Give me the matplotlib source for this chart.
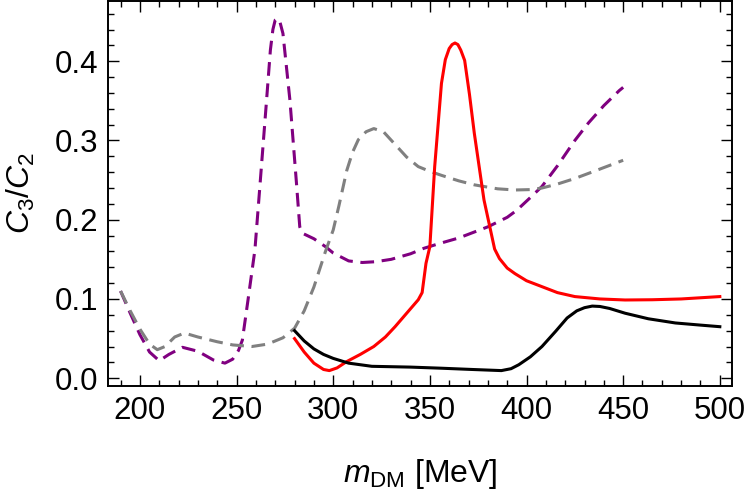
import numpy as np
import matplotlib
matplotlib.use("Agg")
import matplotlib.pyplot as plt
from matplotlib.ticker import MultipleLocator, FormatStrFormatter

# purple dashed curve
purple_x = [190, 195, 200, 205, 210, 215, 222, 230, 238, 244, 248, 251, 253, 256,
            259.5, 262, 265.5, 267.5, 268.8, 270, 271.2, 272.5, 274, 277.6, 281,
            282.7, 284, 290, 296, 300, 308, 315, 322, 330, 340, 347, 355, 365,
            380, 390, 395, 402, 408, 416, 425, 432, 440, 448, 450]
purple_y = [0.110, 0.082, 0.055, 0.033, 0.022, 0.030, 0.039, 0.034, 0.023, 0.019,
            0.024, 0.035, 0.048, 0.100, 0.162, 0.240, 0.350, 0.414, 0.440, 0.452,
            0.454, 0.449, 0.435, 0.351, 0.246, 0.191, 0.183, 0.176, 0.166, 0.158,
            0.148, 0.146, 0.147, 0.150, 0.157, 0.164, 0.170, 0.177, 0.191, 0.203,
            0.212, 0.228, 0.242, 0.268, 0.300, 0.322, 0.344, 0.363, 0.367]

# grey dashed curve
grey_x = [190, 195, 200, 205, 209, 213, 218, 223, 230, 240, 248, 258, 266, 274,
          280, 285, 290, 296, 300, 303, 307, 310, 313, 317, 321, 326, 332, 338,
          344, 350, 356, 365, 373, 385, 394, 402, 408, 416, 425, 437, 450]
grey_y = [0.110, 0.085, 0.062, 0.043, 0.036, 0.040, 0.052, 0.057, 0.052, 0.046,
          0.042, 0.040, 0.043, 0.051, 0.063, 0.085, 0.115, 0.160, 0.187, 0.218,
          0.262, 0.285, 0.301, 0.311, 0.315, 0.311, 0.295, 0.279, 0.267, 0.261,
          0.256, 0.249, 0.244, 0.239, 0.2375, 0.238, 0.240, 0.245, 0.252, 0.263,
          0.275]

# red solid curve
red_x = [280, 285, 290, 295, 298, 302, 307, 314, 321, 327, 332, 338, 344, 346,
         348, 350, 352.5, 356, 358, 360, 361.5, 363, 364.5, 366, 368, 370.5, 373,
         378, 383.5, 386, 390, 394, 400, 408, 416, 425, 438, 451, 465, 480, 500]
red_y = [0.050, 0.033, 0.019, 0.011, 0.0096, 0.013, 0.021, 0.030, 0.040, 0.052,
         0.065, 0.082, 0.099, 0.108, 0.145, 0.166, 0.267, 0.372, 0.402, 0.416,
         0.421, 0.423, 0.421, 0.414, 0.401, 0.358, 0.309, 0.225, 0.163, 0.151,
         0.139, 0.132, 0.123, 0.1155, 0.108, 0.103, 0.100, 0.0987, 0.099, 0.100,
         0.103]

# black solid curve
black_x = [280, 285, 290, 295, 300, 308, 320, 340, 356, 372, 387, 392, 396, 402,
           408, 415, 421, 426, 430, 434, 438, 443, 451, 463, 477, 490, 500]
black_y = [0.060, 0.047, 0.037, 0.030, 0.025, 0.019, 0.015, 0.014, 0.0126, 0.011,
           0.0096, 0.012, 0.017, 0.027, 0.040, 0.059, 0.076, 0.085, 0.089, 0.091,
           0.0905, 0.088, 0.082, 0.075, 0.0697, 0.067, 0.065]

plt.rcParams.update({
    "font.family": "sans-serif",
    "font.sans-serif": ["Liberation Sans", "DejaVu Sans"],
    "mathtext.fontset": "custom",
    "mathtext.rm": "Liberation Sans",
    "mathtext.it": "Liberation Sans:italic",
})

fig = plt.figure(figsize=(7.5, 4.96), dpi=100)
ax = fig.add_axes([0.144, 0.222, 0.832, 0.776])

lw = 2.2
ax.plot(purple_x, purple_y, color="#800080", lw=lw, dashes=(4.5, 2.5))
ax.plot(grey_x, grey_y, color="#808080", lw=lw, dashes=(4.5, 2.5))
ax.plot(red_x, red_y, color="#ff0000", lw=lw)
ax.plot(black_x, black_y, color="black", lw=lw)

ax.set_xlim(183.5, 506.3)
ax.set_ylim(-0.0097, 0.476)

ax.xaxis.set_major_locator(MultipleLocator(50))
ax.xaxis.set_minor_locator(MultipleLocator(10))
ax.yaxis.set_major_locator(MultipleLocator(0.1))
ax.yaxis.set_minor_locator(MultipleLocator(0.02))
ax.yaxis.set_major_formatter(FormatStrFormatter("%.1f"))

ax.tick_params(which="both", direction="in", top=True, right=True, width=1.0,
               labelsize=22.5, pad=7)
ax.tick_params(which="major", length=8)
ax.tick_params(which="minor", length=4.5)

for s in ax.spines.values():
    s.set_linewidth(1.4)

ax.set_xlabel(r"$m_{\mathrm{DM}}$ [MeV]", fontsize=23)
ax.xaxis.set_label_coords(0.5, -0.185)
ax.set_ylabel(r"$C_3/C_2$", fontsize=23)
ax.yaxis.set_label_coords(-0.113, 0.5)

fig.savefig("out.png", dpi=100)
